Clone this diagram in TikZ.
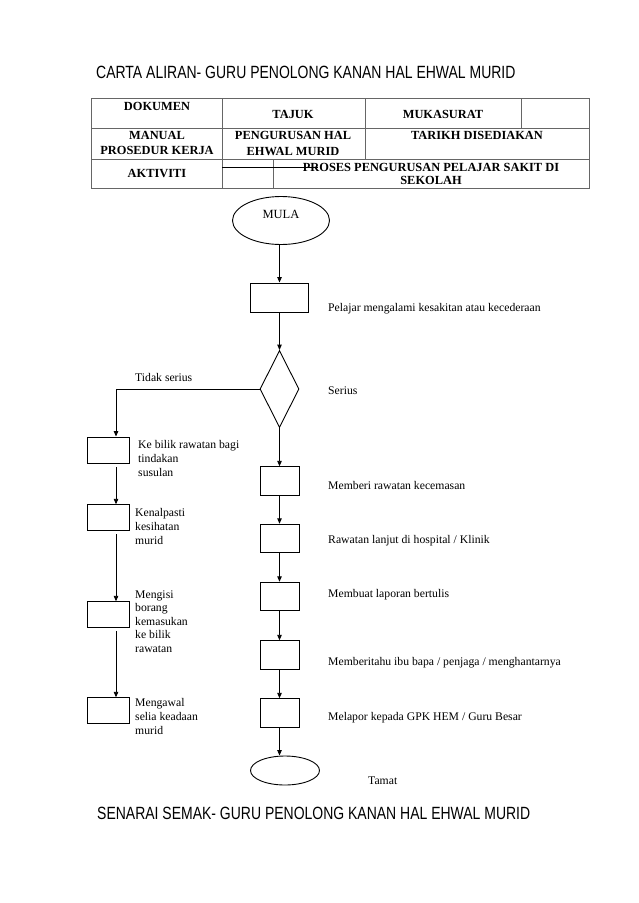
\documentclass[tikz,border=0pt]{standalone}
\usepackage{graphicx}
\usepackage{fontspec}
\setmainfont{Liberation Serif}
\newfontfamily\titlefont{Liberation Sans}
\usetikzlibrary{shapes.geometric,arrows.meta}
\begin{document}
\begin{tikzpicture}[x=1pt,y=-1pt,
  ttl/.style={anchor=base west,inner sep=0pt,font=\titlefont\fontsize{17.7}{20}\selectfont},
  tline/.style={draw=black!60,line width=0.9pt},
  tab/.style={inner sep=0pt,align=center,font=\fontsize{12.4}{15.5}\selectfont\bfseries},
  tabb/.style={inner sep=0pt,align=center,font=\fontsize{12.4}{13.8}\selectfont\bfseries},
  box/.style={draw,line width=0.9pt,rectangle,minimum width=39pt,minimum height=28.5pt,inner sep=0pt},
  lbox/.style={draw,line width=0.9pt,rectangle,minimum width=42pt,minimum height=25.5pt,inner sep=0pt},
  oval/.style={draw,line width=0.9pt,ellipse,inner sep=0pt},
  lab/.style={anchor=west,inner sep=0pt,align=left,font=\fontsize{11.7}{13.6}\selectfont},
  arr/.style={-{Triangle[length=5.5pt,width=4.5pt]},line width=0.9pt}]
\useasboundingbox (0,0) rectangle (638,903);
\fill[white] (0,0) rectangle (638,903);

% titles
\node[ttl] (title) at (96,78.5) {\scalebox{0.79}[1]{CARTA ALIRAN- GURU PENOLONG KANAN HAL EHWAL MURID}};
\node[ttl] (title2) at (97,819.5) {\scalebox{0.79}[1]{SENARAI SEMAK- GURU PENOLONG KANAN HAL EHWAL MURID}};

% table
\draw[tline] (91,98) rectangle (589,188);
\draw[tline] (91,128) -- (589,128);
\draw[tline] (91,159) -- (589,159);
\draw[tline] (222,98) -- (222,188);
\draw[tline] (365,98) -- (365,159);
\draw[tline] (521,98) -- (521,128);
\draw[tline] (273,159) -- (273,188);
\draw[line width=0.9pt] (222,167) -- (318,167);

\node[tab] (dok) at (157,106) {DOKUMEN};
\node[tab] (tajuk) at (293,114) {TAJUK};
\node[tab] (muka) at (443,114) {MUKASURAT};
\node[tab] (manual) at (157,143) {MANUAL\\PROSEDUR KERJA};
\node[tab] (pengurusan) at (293,143.5) {PENGURUSAN HAL\\EHWAL MURID};
\node[tab] (tarikh) at (477,135) {TARIKH DISEDIAKAN};
\node[tab] (aktiviti) at (157,173) {AKTIVITI};
\node[tabb] (proses) at (431,174) {PROSES PENGURUSAN PELAJAR SAKIT DI\\SEKOLAH};

% flowchart nodes
\node[oval,minimum width=97pt,minimum height=48pt] (mula) at (281,220.5) {};
\node[inner sep=0pt,font=\fontsize{12.5}{14}\selectfont] (mulat) at ([yshift=6pt]mula.center) {MULA};
\node[box,minimum width=58pt,minimum height=29pt] (r1) at (279.5,297.5) {};
\node[draw,line width=0.9pt,diamond,minimum width=39pt,minimum height=77pt,inner sep=0pt] (dia) at (279.5,389) {};

\node[box] (mA) at (279.5,481) {};
\node[box] (mB) at (279.5,538.5) {};
\node[box] (mC) at (279.5,596.5) {};
\node[box] (mD) at (279.5,655) {};
\node[box] (mE) at (279.5,713) {};
\node[oval,minimum width=69pt,minimum height=29pt] (tamat) at (285,770.5) {};

\node[lbox,minimum height=26pt] (lb1) at (108,450) {};
\node[lbox] (lb2) at (108,517.5) {};
\node[lbox] (lb3) at (108,614.5) {};
\node[lbox] (lb4) at (108,710.5) {};
\coordinate (colL) at (116,400);

% labels
\node[lab] (t1) at (328,309) {Pelajar mengalami kesakitan atau kecederaan};
\node[lab] (tser) at (328,391) {Serius};
\node[lab] (ttidak) at (135,377) {Tidak serius};
\node[lab] (tA) at (328,485.5) {Memberi rawatan kecemasan};
\node[lab] (tB) at (328,540.5) {Rawatan lanjut di hospital / Klinik};
\node[lab] (tC) at (328,594.5) {Membuat laporan bertulis};
\node[lab] (tD) at (328,662.5) {Memberitahu ibu bapa / penjaga / menghantarnya};
\node[lab] (tE) at (328,717.5) {Melapor kepada GPK HEM / Guru Besar};
\node[lab] (ttamat) at (368,781) {Tamat};

\node[lab] (tl1) at (138,458.5) {Ke bilik rawatan bagi\\tindakan\\susulan};
\node[lab] (tl2) at (135,526.5) {Kenalpasti\\kesihatan\\murid};
\node[lab] (tl3) at (135,621.5) {Mengisi\\borang\\kemasukan\\ke bilik\\rawatan};
\node[lab] (tl4) at (135,716.5) {Mengawal\\selia keadaan\\murid};

% connectors
\draw[arr] (r1.north |- mula.south) -- (r1.north);
\draw[arr] (r1.south) -- (dia.north);
\draw[arr] (dia.south) -- (mA.north);
\draw[arr] (mA.south) -- (mB.north);
\draw[arr] (mB.south) -- (mC.north);
\draw[arr] (mC.south) -- (mD.north);
\draw[arr] (mD.south) -- (mE.north);
\draw[arr] (mE.south) -- (mE.south |- tamat.north);
\draw[arr] (dia.west) -| (lb1.north -| colL);
\draw[arr] ([yshift=-3.5pt]lb1.south -| colL) -- (lb2.north -| colL);
\draw[arr] ([yshift=-3.5pt]lb2.south -| colL) -- (lb3.north -| colL);
\draw[arr] ([yshift=-3.5pt]lb3.south -| colL) -- (lb4.north -| colL);
\end{tikzpicture}
\end{document}
